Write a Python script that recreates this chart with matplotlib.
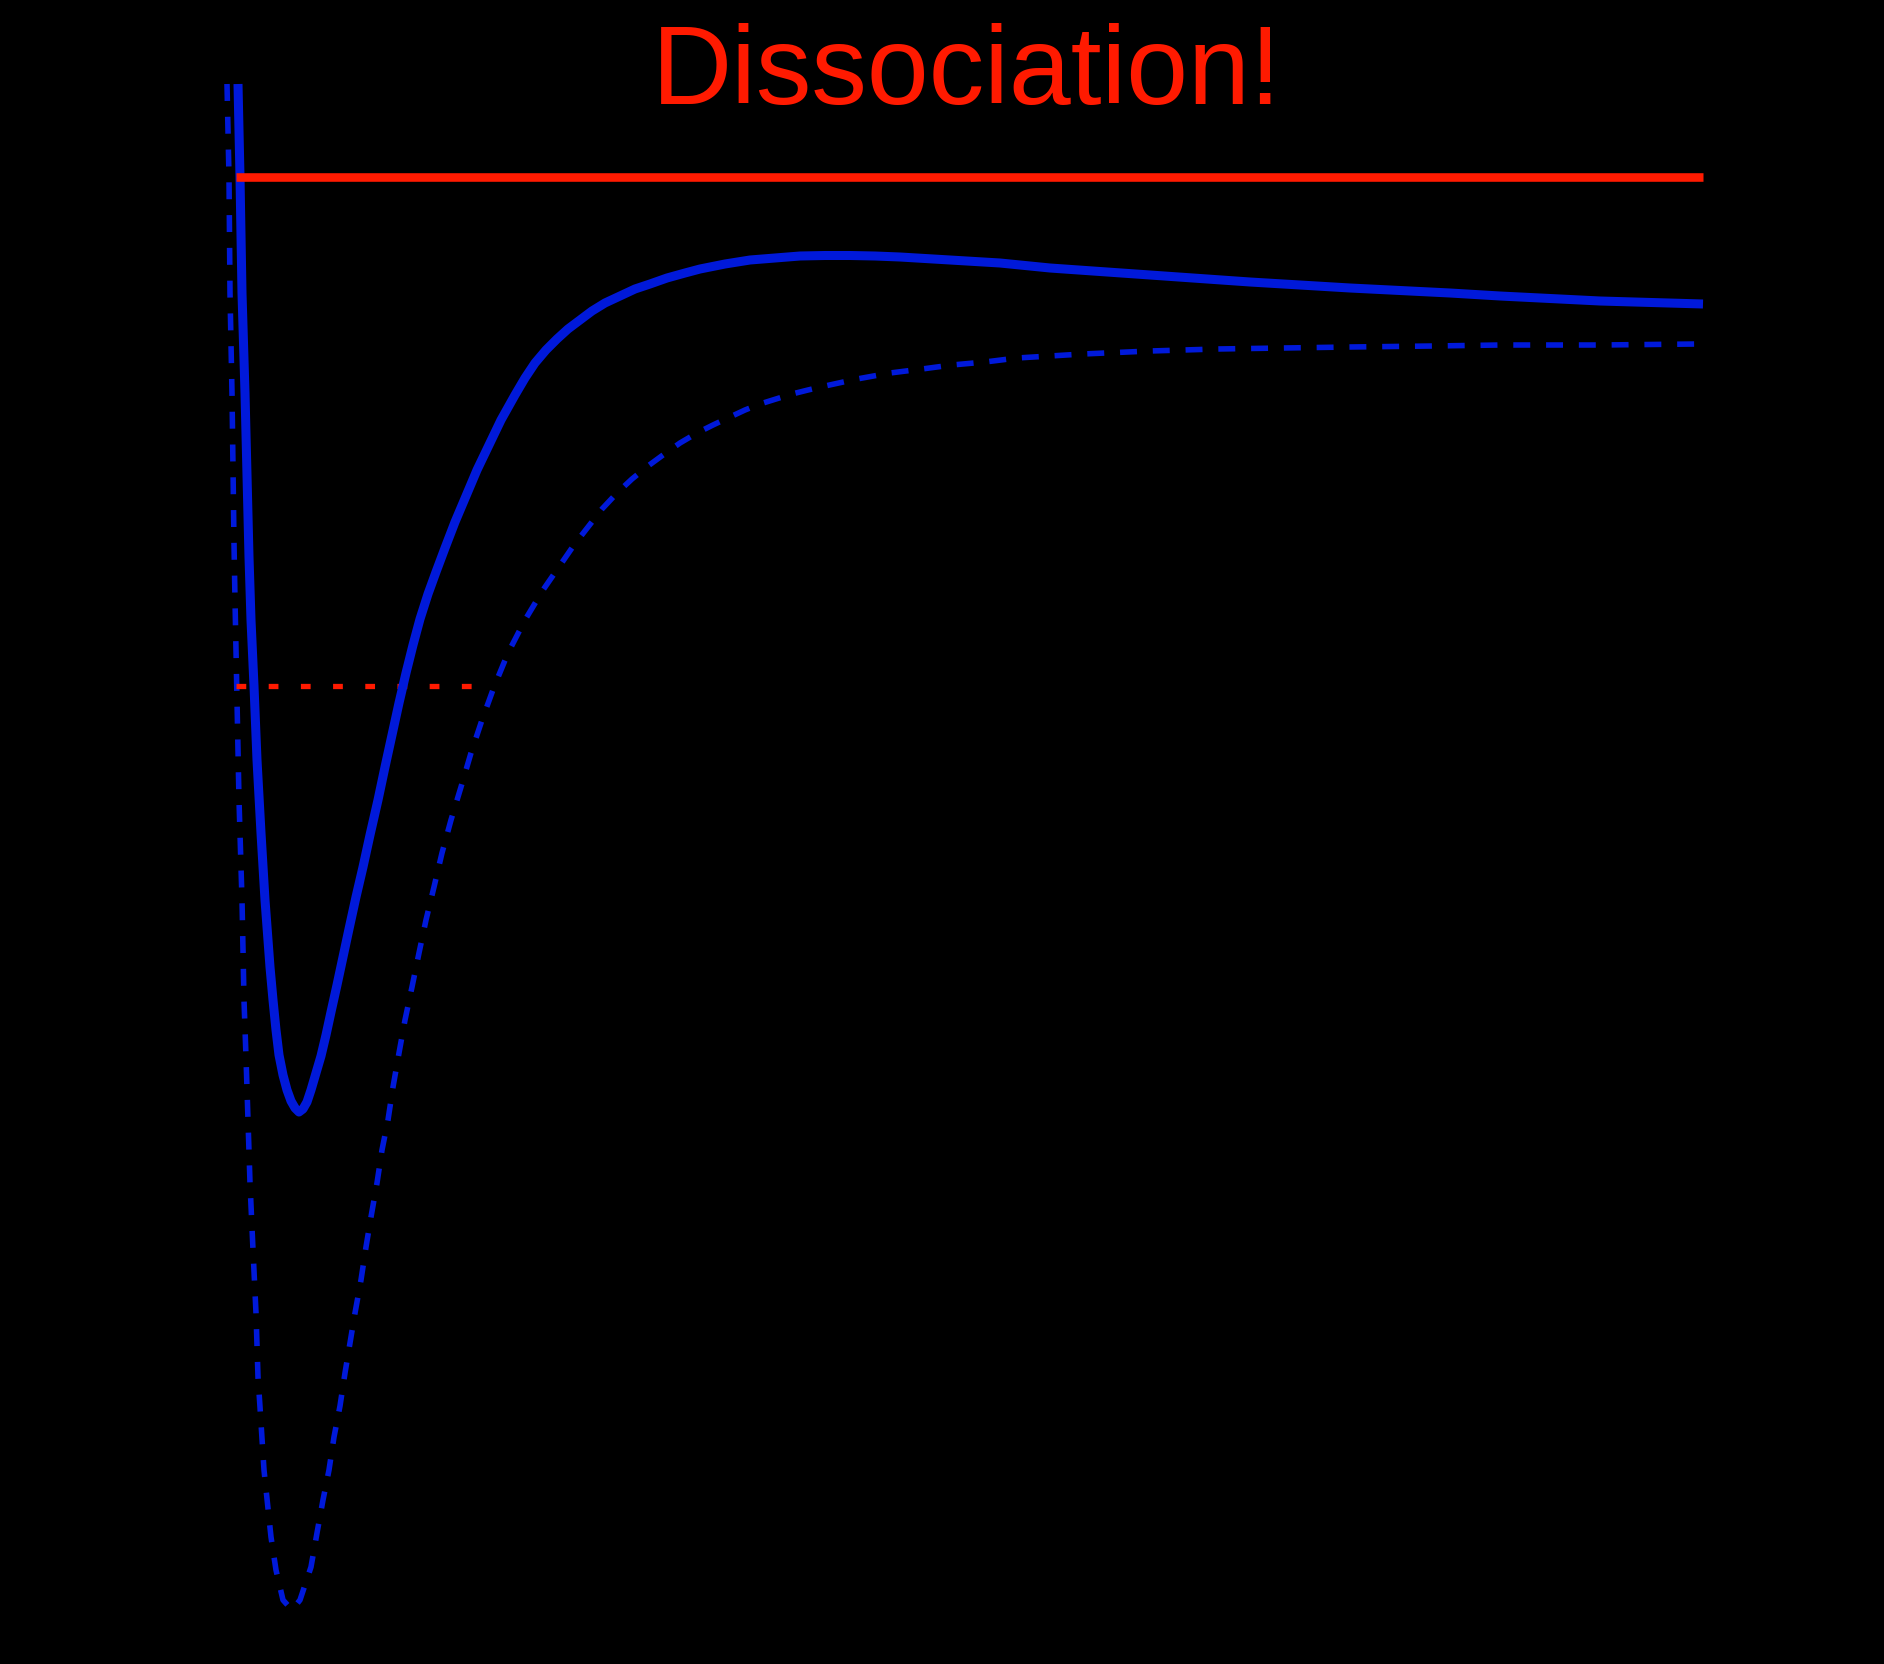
import matplotlib
matplotlib.use('Agg')
import matplotlib.pyplot as plt

# bound state potential (solid): r (arb.), E (arb.)
bound_r = [0.01, 0.03, 0.05, 0.08, 0.12, 0.14, 0.17, 0.20, 0.24, 0.28, 0.33, 0.36,
           0.39, 0.42, 0.46, 0.50, 0.54, 0.58, 0.62, 0.66, 0.70, 0.74, 0.79, 0.84,
           0.89, 0.94, 1.00, 1.06, 1.12, 1.19, 1.26, 1.33, 1.41, 1.48, 1.55, 1.62,
           1.69, 1.76, 1.83, 1.91, 1.99, 2.08, 2.18, 2.29, 2.40, 2.52, 2.64, 2.78,
           2.88, 2.98, 3.09, 3.20, 3.31, 3.43, 3.55, 3.68, 3.83, 3.98, 4.13, 4.30,
           4.48, 4.63, 4.88, 5.13, 5.38, 5.63, 5.88, 6.13, 6.38, 6.63, 7.13, 7.63,
           8.13, 9.13, 10.13, 11.13, 12.13, 12.63, 13.63, 14.66]
bound_E = [2.59, 1.66, 0.50, -0.50, -2.14, -2.77, -3.43, -4.17, -4.90, -5.57, -6.24, -6.57,
           -6.87, -7.12, -7.32, -7.47, -7.58, -7.65, -7.69, -7.66, -7.59, -7.47, -7.30, -7.13,
           -6.92, -6.69, -6.42, -6.14, -5.86, -5.54, -5.24, -4.92, -4.57, -4.24, -3.92, -3.60,
           -3.30, -3.02, -2.76, -2.51, -2.29, -2.05, -1.79, -1.53, -1.27, -1.02, -0.77, -0.52,
           -0.35, -0.20, -0.07, 0.04, 0.14, 0.23, 0.32, 0.40, 0.47, 0.54, 0.59, 0.65,
           0.70, 0.74, 0.79, 0.83, 0.85, 0.87, 0.875, 0.875, 0.87, 0.86, 0.83, 0.80,
           0.75, 0.68, 0.61, 0.55, 0.50, 0.47, 0.42, 0.39]

# ground state potential (dashed)
ground_r = [-0.10, -0.08, -0.07, -0.05, -0.03, -0.02, 0.00, 0.02, 0.05, 0.07, 0.09, 0.11,
            0.13, 0.16, 0.19, 0.21, 0.23, 0.27, 0.34, 0.39, 0.46, 0.55, 0.63, 0.74,
            0.80, 0.86, 0.92, 0.97, 1.03, 1.08, 1.13, 1.18, 1.24, 1.29, 1.34, 1.40,
            1.45, 1.51, 1.56, 1.62, 1.68, 1.75, 1.82, 1.89, 1.97, 2.05, 2.14, 2.24,
            2.34, 2.45, 2.57, 2.71, 2.88, 3.06, 3.26, 3.37, 3.51, 3.65, 3.80, 3.95,
            4.11, 4.26, 4.43, 4.60, 4.76, 4.93, 5.08, 5.23, 5.39, 5.55, 5.71, 5.88,
            6.20, 6.53, 6.85, 7.15, 7.48, 7.80, 8.13, 8.46, 9.13, 9.80, 10.46, 11.13,
            11.96, 12.63, 13.63, 14.60]
ground_E = [2.59, 1.66, 0.50, -0.50, -2.00, -2.57, -3.57, -4.57, -5.57, -6.57, -7.14, -7.77,
            -8.40, -9.07, -9.70, -10.34, -10.64, -11.27, -11.94, -12.27, -12.57, -12.67, -12.57, -12.24,
            -11.90, -11.57, -11.27, -10.94, -10.63, -10.30, -10.00, -9.70, -9.37, -9.04, -8.74, -8.40,
            -8.07, -7.77, -7.44, -7.10, -6.77, -6.44, -6.10, -5.77, -5.44, -5.10, -4.77, -4.44,
            -4.10, -3.77, -3.44, -3.10, -2.77, -2.47, -2.18, -2.02, -1.84, -1.66, -1.50, -1.36,
            -1.23, -1.12, -1.00, -0.90, -0.82, -0.74, -0.67, -0.61, -0.56, -0.51, -0.47, -0.43,
            -0.36, -0.30, -0.26, -0.22, -0.19, -0.15, -0.13, -0.11, -0.08, -0.06, -0.05, -0.04,
            -0.03, -0.02, -0.02, -0.01]

# energy levels
E_diss = 1.66
diss_r = [-0.01, 14.66]
E_level = -3.43
level_r = [-0.01, 2.47]

label = 'Dissociation!'
label_r, label_E = 7.30, 2.39

blue = '#0019DA'
red = '#FF1A00'

fig = plt.figure(figsize=(18.84, 16.64), dpi=100, facecolor='black')
ax = fig.add_axes([0, 0, 1, 1])
ax.set_facecolor('black')

ax.plot(ground_r, ground_E, color=blue, lw=4.0, linestyle=(0, (3.05, 2.85)), zorder=1)
ax.plot(level_r, [E_level, E_level], color=red, lw=3.8, linestyle=(0, (1.85, 4.25)), zorder=2)
ax.plot(bound_r, bound_E, color=blue, lw=6.5, solid_capstyle='butt',
        solid_joinstyle='round', zorder=3)
ax.plot(diss_r, [E_diss, E_diss], color=red, lw=6.2, solid_capstyle='butt', zorder=4)

ax.text(label_r, label_E, label, color=red, fontsize=80, family='Liberation Sans',
        ha='center', va='baseline')

ax.set_xlim(-2.37, 16.47)
ax.set_ylim(-13.21, 3.43)
ax.axis('off')

fig.savefig('out.png', dpi=100, facecolor='black')
